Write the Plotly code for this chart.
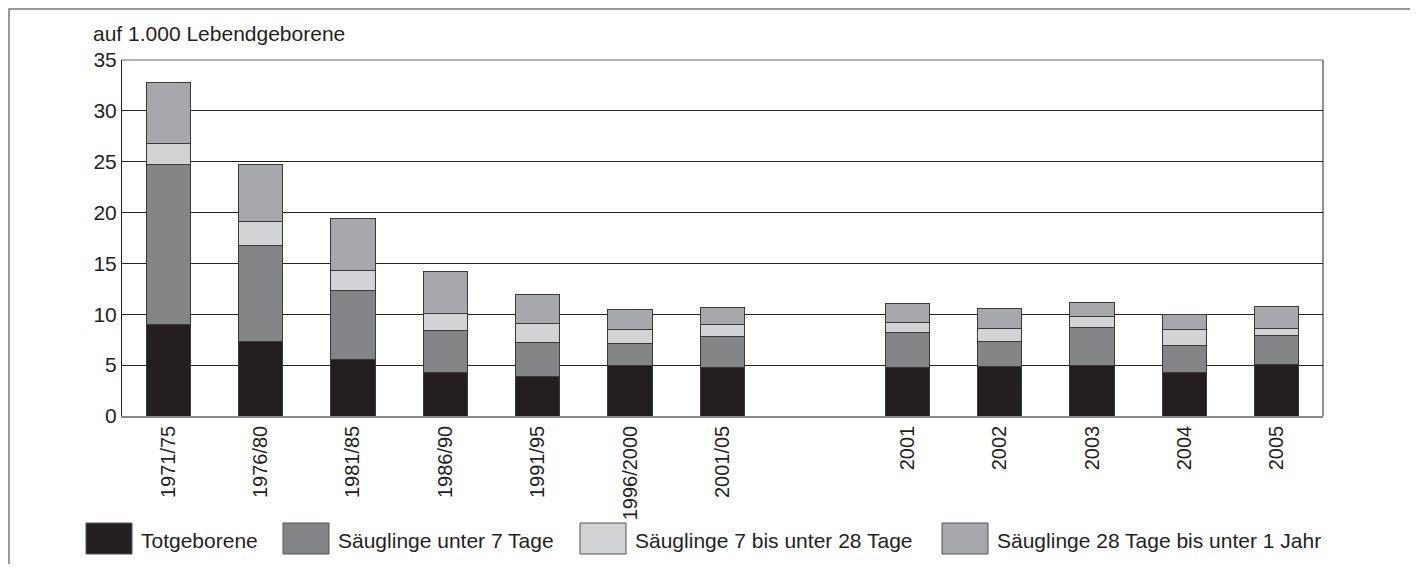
import plotly.graph_objects as go

# Zeitraeume / Jahre (zwischen den beiden Gruppen bleibt eine Luecke)
perioden = ["1971/75", "1976/80", "1981/85", "1986/90", "1991/95", "1996/2000", "2001/05"]
jahre = ["2001", "2002", "2003", "2004", "2005"]

# Werte je 1.000 Lebendgeborene
totgeborene = [9.0, 7.3, 5.6, 4.25, 3.9, 5.0, 4.8, 4.8, 4.85, 4.95, 4.3, 5.1]
unter_7_tage = [15.7, 9.45, 6.7, 4.15, 3.3, 2.15, 3.0, 3.4, 2.5, 3.75, 2.65, 2.8]
tage_7_bis_28 = [2.1, 2.35, 2.05, 1.7, 1.9, 1.35, 1.15, 1.0, 1.25, 1.1, 1.55, 0.75]
tage_28_bis_1_jahr = [6.0, 5.65, 5.05, 4.1, 2.85, 1.95, 1.75, 1.9, 1.95, 1.4, 1.45, 2.15]

namen = ["Totgeborene", "Säuglinge unter 7 Tage", "Säuglinge 7 bis unter 28 Tage",
         "Säuglinge 28 Tage bis unter 1 Jahr"]
farben = ["#231f20", "#838485", "#d1d3d4", "#a7a8ab"]
y_ticks = [0, 5, 10, 15, 20, 25, 30, 35]

labels = perioden + jahre
# Positionen: Perioden, eine leere Stelle, dann Einzeljahre
x_pos = list(range(len(perioden))) + [len(perioden) + 1 + i for i in range(len(jahre))]
n_slots = len(perioden) + 1 + len(jahre)

FONT = "Liberation Sans, Arial, sans-serif"

fig = go.Figure()
for name, werte, farbe in zip(namen, [totgeborene, unter_7_tage, tage_7_bis_28, tage_28_bis_1_jahr], farben):
    fig.add_trace(go.Bar(
        x=x_pos, y=werte, name=name,
        marker=dict(color=farbe, line=dict(color="#3a3a3a", width=1)),
        width=0.48, showlegend=False,
    ))

# Seite hat 8px Rand -> alles um 8px verschieben
OFF = 8
FW, FH = 1418 - OFF, 572 - 2 * OFF
# Plotbereich in Pixeln (Bildkoordinaten)
L, R, T, B = 122, 1323, 60, 416
W, H = R - L, B - T


def px(x):
    return (x - L) / W


def py(y):
    return (B - y) / H


shapes = [
    # aeusserer Rahmen
    dict(type="rect", xref="paper", yref="paper", x0=px(9), x1=px(1413), y0=py(9), y1=py(600),
         line=dict(color="#7a7a7a", width=1.5), layer="below"),
    # rechte und obere Begrenzung des Plotbereichs
    dict(type="line", xref="paper", yref="paper", x0=1, x1=1, y0=0, y1=1,
         line=dict(color="#222", width=1)),
    dict(type="line", xref="paper", yref="paper", x0=0, x1=1, y0=1, y1=1,
         line=dict(color="#666", width=1.2)),
]
annotations = [
    dict(text="auf 1.000 Lebendgeborene", xref="paper", yref="paper", x=px(91), y=py(33),
         xanchor="left", yanchor="middle", showarrow=False,
         font=dict(family=FONT, size=21, color="#231f20")),
]

# Legende als Kaestchen + Text
swatch_x = [86, 283, 580, 942]
for sx, name, farbe in zip(swatch_x, namen, farben):
    shapes.append(dict(type="rect", xref="paper", yref="paper", x0=px(sx), x1=px(sx + 46),
                       y0=py(554), y1=py(523), fillcolor=farbe,
                       line=dict(color="#555", width=1)))
    annotations.append(dict(text=name, xref="paper", yref="paper", x=px(sx + 53), y=py(540),
                            xanchor="left", yanchor="middle", showarrow=False,
                            font=dict(family=FONT, size=21, color="#231f20")))

fig.update_layout(
    barmode="stack",
    width=FW, height=FH,
    margin=dict(l=L - OFF, r=FW + OFF - R, t=T - OFF, b=FH + OFF - B),
    plot_bgcolor="white", paper_bgcolor="white",
    font=dict(family=FONT, size=21, color="#231f20"),
    shapes=shapes, annotations=annotations,
    showlegend=False,
)
fig.update_xaxes(
    range=[-0.5, n_slots - 0.5], tickmode="array", tickvals=x_pos, ticktext=labels,
    tickangle=-90, ticks="", showgrid=False, zeroline=False,
    showline=True, linecolor="#888", linewidth=1.5,
    tickfont=dict(size=20),
)
fig.update_yaxes(
    range=[0, 35], tickvals=y_ticks, showgrid=True, gridcolor="#222", gridwidth=1,
    zeroline=False, showline=True, linecolor="#222", linewidth=1,
    ticks="", tickfont=dict(size=21),
)

fig.write_html("out.html")
